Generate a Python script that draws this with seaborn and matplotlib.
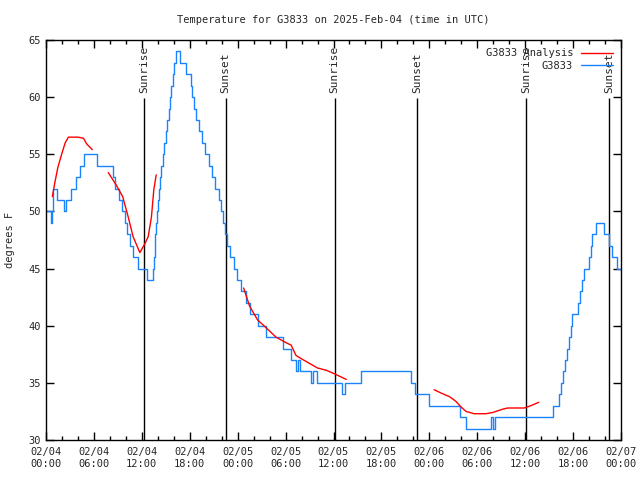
import pandas as pd
import matplotlib
matplotlib.use('Agg')
import matplotlib.pyplot as plt
from matplotlib.lines import Line2D
import seaborn as sns

# station obs, hours since 02/04 00:00 UTC (value holds until next point)
obs_hours = [0.0, 0.6, 0.8, 0.9, 1.35, 2.2, 2.45, 3.15, 3.8, 4.2, 4.8, 6.4,
             8.4, 8.7, 9.1, 9.5, 9.9, 10.2, 10.5, 10.9, 11.5, 12.6,
             13.4, 13.5, 13.6, 13.7, 13.8, 13.9, 14.0, 14.1, 14.25, 14.4, 14.6, 14.8,
             15.0, 15.2, 15.35, 15.5, 15.7, 15.85, 16.05, 16.3, 16.75, 17.5,
             18.15, 18.3, 18.55, 18.8, 19.1, 19.5, 19.9, 20.4, 20.8, 21.2, 21.6,
             21.95, 22.2, 22.45, 22.65, 23.0, 23.5, 23.9, 24.4, 25.0, 25.6, 26.5,
             27.6, 29.7, 30.65, 31.35, 31.55, 31.75, 33.15, 33.4, 33.9, 37.05,
             37.5, 39.5, 45.7, 46.25, 47.9, 51.8, 52.6, 55.7, 55.95, 56.2,
             63.45, 64.25, 64.45, 64.7, 64.95, 65.2, 65.45, 65.7, 65.9, 66.6,
             66.85, 67.15, 67.4, 68.05, 68.2, 68.35, 68.85, 69.85, 70.55, 70.85,
             71.55, 72.0]
obs_temps = [50, 49, 50, 52, 51, 50, 51, 52, 53, 54, 55, 54,
             53, 52, 51, 50, 49, 48, 47, 46, 45, 44,
             45, 46, 47, 48, 49, 50, 51, 52, 53, 54, 55, 56,
             57, 58, 59, 60, 61, 62, 63, 64, 63, 62,
             61, 60, 59, 58, 57, 56, 55, 54, 53, 52, 51,
             50, 49, 48, 47, 46, 45, 44, 43, 42, 41, 40,
             39, 38, 37, 36, 37, 36, 35, 36, 35, 34,
             35, 36, 35, 34, 33, 32, 31, 32, 31, 32,
             33, 34, 35, 36, 37, 38, 39, 40, 41, 42,
             43, 44, 45, 46, 47, 48, 49, 48, 47, 46,
             45, 45]

# analysis curve, four separate pieces
ana_hours_1 = [0.8, 1.1, 1.5, 2.0, 2.4, 2.8, 3.5, 4.0, 4.7, 5.1, 5.8]
ana_temps_1 = [51.3, 52.5, 53.9, 55.1, 56.0, 56.5, 56.5, 56.5, 56.4, 55.9, 55.4]
ana_hours_2 = [7.8, 8.8, 9.6, 10.3, 10.9, 11.75, 12.4, 12.8, 13.2, 13.5, 13.8]
ana_temps_2 = [53.4, 52.3, 51.3, 49.5, 47.8, 46.4, 47.2, 47.8, 49.5, 51.9, 53.2]
ana_hours_3 = [24.75, 25.5, 26.5, 27.6, 28.8, 30.1, 30.7, 31.3, 32.0, 33.0, 34.0, 35.1, 36.1, 37.6]
ana_temps_3 = [43.3, 41.7, 40.5, 39.8, 39.0, 38.5, 38.3, 37.4, 37.1, 36.7, 36.3, 36.1, 35.8, 35.3]
ana_hours_4 = [48.6, 49.5, 50.5, 51.3, 51.95, 52.6, 53.6, 55.1, 55.9, 57.2, 57.8, 59.9, 60.7, 61.7]
ana_temps_4 = [34.4, 34.1, 33.8, 33.4, 32.9, 32.5, 32.3, 32.3, 32.4, 32.7, 32.8, 32.8, 33.0, 33.3]

sun_hours = [12.25, 22.5, 36.15, 46.5, 60.1, 70.5]
sun_labels = ['Sunrise', 'Sunset', 'Sunrise', 'Sunset', 'Sunrise', 'Sunset']

tick_hours = list(range(0, 73, 6))
tick_labels = ['02/04\n00:00', '02/04\n06:00', '02/04\n12:00', '02/04\n18:00',
               '02/05\n00:00', '02/05\n06:00', '02/05\n12:00', '02/05\n18:00',
               '02/06\n00:00', '02/06\n06:00', '02/06\n12:00', '02/06\n18:00',
               '02/07\n00:00']

obs_df = pd.DataFrame({'hour': obs_hours, 'temp': obs_temps})
ana_df = pd.concat([
    pd.DataFrame({'hour': h, 'temp': t, 'seg': i})
    for i, (h, t) in enumerate([(ana_hours_1, ana_temps_1), (ana_hours_2, ana_temps_2),
                                (ana_hours_3, ana_temps_3), (ana_hours_4, ana_temps_4)])
])

sns.set_style('ticks')
plt.rcParams['font.family'] = ['DejaVu Sans Mono']
fs = 7.5
blue = '#1a84ff'

fig = plt.figure(figsize=(6.4, 4.8), dpi=100)
ax = fig.add_axes([46 / 640, 40 / 480, 575 / 640, 400 / 480])

sns.lineplot(data=obs_df, x='hour', y='temp', estimator=None, drawstyle='steps-post',
             color=blue, lw=1.0, ax=ax, zorder=2)
sns.lineplot(data=ana_df, x='hour', y='temp', units='seg', estimator=None,
             color='red', lw=1.0, ax=ax, zorder=3)

ax.vlines(sun_hours, 30, 59.95, color='black', lw=1.0, zorder=1)
for h, lab in zip(sun_hours, sun_labels):
    ax.text(h, 60.35, lab, rotation=90, ha='center', va='bottom', fontsize=8)

ax.set_xlim(0, 72)
ax.set_ylim(30, 65)
ax.set_xticks(tick_hours)
ax.set_xticklabels(tick_labels, fontsize=fs)
ax.set_xticks(list(range(0, 73, 2)), minor=True)
ax.set_yticks(list(range(30, 66, 5)))
ax.set_yticklabels([str(v) for v in range(30, 66, 5)], fontsize=fs)
ax.tick_params(which='both', direction='in', top=True, right=True, color='black', width=1)
ax.tick_params(which='major', length=6)
ax.tick_params(which='minor', length=3)
ax.tick_params(axis='x', pad=5)
ax.tick_params(axis='y', pad=4)
for sp in ax.spines.values():
    sp.set_visible(True)
    sp.set_color('black')
    sp.set_linewidth(1.0)

ax.set_xlabel('')
ax.set_ylabel('degrees F', fontsize=fs)
ax.yaxis.set_label_coords(-0.054, 0.5)
ax.set_title('Temperature for G3833 on 2025-Feb-04 (time in UTC)', fontsize=fs, pad=12)

handles = [Line2D([], [], color='red', lw=1.0), Line2D([], [], color=blue, lw=1.0)]
ax.legend(handles, ['G3833 Analysis', 'G3833'], loc='upper right', frameon=False,
          markerfirst=False, fontsize=fs, handlelength=3.0, handletextpad=0.8,
          labelspacing=0.25, borderaxespad=0.4)

fig.savefig('out.png', dpi=100)
